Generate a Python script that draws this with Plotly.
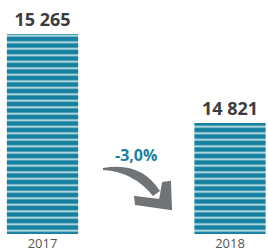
import plotly.graph_objects as go

years = ["2017", "2018"]
values = [15265, 14821]
value_labels = ["15 265", "14 821"]
change_label = "-3,0%"

W, H = 268, 251
ML, MR, MT, MB = 0, 0, 0, 17
PW, PH = W - ML - MR, H - MT - MB

def px(x, y):
    return (x - ML) / PW, (PH - (y - MT)) / PH

def path(cmds):
    out = []
    for c in cmds:
        if isinstance(c, str):
            out.append(c)
        else:
            xx, yy = px(*c)
            out.append(f"{xx:.4f},{yy:.4f}")
    return " ".join(out)

teal = "#15809f"
light = "#c6e3e9"
gray = "#707476"

fig = go.Figure()
fig.add_trace(go.Bar(
    x=[0, 1], y=values, width=0.38,
    text=value_labels, textposition="outside", cliponaxis=False,
    textfont=dict(family="Open Sans", size=18, color="#3d3d3d", weight="bold"),
    marker=dict(color=teal, line=dict(width=0),
                pattern=dict(shape="-", bgcolor=teal, fgcolor=light,
                             size=6.5, solidity=0.28, fillmode="replace")),
    hoverinfo="skip",
))

base = 14267
top = base + (15265 - base) * PH / 200.0

body = path(["M", (103, 168), "Q", (141, 161), (160, 191), "L", (153, 196),
             "Q", (134, 172), (103, 170), "Z"])
head = path(["M", (135, 197), "L", (160, 200), "L", (163, 183), "L", (170, 182),
             "L", (171, 209), "L", (136, 204), "Z"])

fig.add_shape(type="path", path=body, xref="paper", yref="paper",
              fillcolor=gray, line=dict(width=0))
fig.add_shape(type="path", path=head, xref="paper", yref="paper",
              fillcolor=gray, line=dict(color=gray, width=2))

ax, ay = px(136, 155)
fig.add_annotation(x=ax, y=ay, xref="paper", yref="paper", text=f"<b>{change_label}</b>",
                   showarrow=False, font=dict(family="Open Sans", size=16, color="#1a7fa0"))

fig.update_layout(
    width=W, height=H, margin=dict(l=ML, r=MR, t=MT, b=MB),
    plot_bgcolor="white", paper_bgcolor="white", showlegend=False,
    xaxis=dict(range=[-42.5 / 187.5, (268 - 42.5) / 187.5], tickvals=[0, 1], ticktext=years,
               showgrid=False, zeroline=False, showline=False, ticks="", automargin=False,
               ticklabelstandoff=0,
               tickfont=dict(family="Open Sans", size=13, color="#555555")),
    yaxis=dict(range=[base, top], visible=False),
)

fig.write_html("out.html", config={"displayModeBar": False},
               post_script="document.body.style.margin='0';document.body.style.overflow='hidden';")
